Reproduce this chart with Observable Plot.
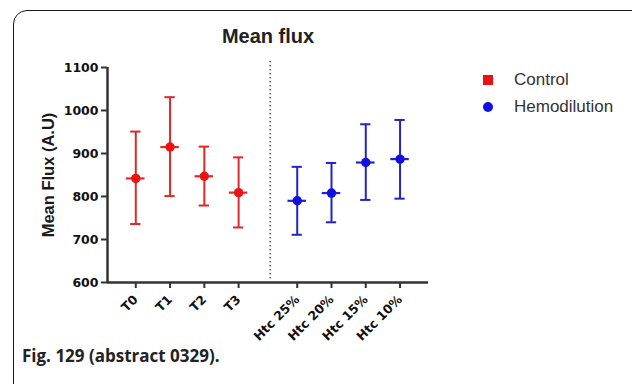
<!DOCTYPE html>
<html>
<head>
<meta charset="utf-8">
<script src="https://cdn.jsdelivr.net/npm/d3@7"></script>
<script src="https://cdn.jsdelivr.net/npm/@observablehq/plot@0.6"></script>
<style>
  body { margin:0; width:632px; height:384px; position:relative; overflow:hidden; background:#fff; font-family:"Liberation Sans", Arial, sans-serif; }
  #frame { position:absolute; left:13px; top:10px; width:640px; height:400px; border:1.5px solid #1a1a1a; border-radius:14px; }
  #chart { position:absolute; left:0; top:0; }
  #title { position:absolute; left:168px; width:200px; top:25px; text-align:center; font-weight:bold; font-size:20px; color:#222; }
  #ytitle { position:absolute; left:48px; top:175px; transform:translate(-50%,-50%) rotate(-90deg); white-space:nowrap; font-weight:bold; font-size:16.5px; color:#1a1a1a; }
  .leg { position:absolute; left:483px; font-size:17px; color:#333; display:flex; align-items:center; }
  .leg .sw { width:10px; height:10px; margin-right:21px; }
  #caption { position:absolute; left:22px; top:344px; font-family:"Open Sans", sans-serif; font-weight:700; font-size:17px; color:#222; }
  svg text { font-family:"DejaVu Sans", sans-serif; font-weight:bold; }
</style>
</head>
<body>
<div id="frame"></div>
<div id="chart"></div>
<div id="title">Mean flux</div>
<div id="ytitle">Mean Flux (A.U)</div>
<div class="leg" style="top:70px"><div class="sw" style="background:#ee1111"></div>Control</div>
<div class="leg" style="top:97px"><div class="sw" style="background:#1010e0;border-radius:50%"></div>Hemodilution</div>
<div id="caption">Fig. 129 (abstract 0329).</div>
<script>
const categories = ["T0", "T1", "T2", "T3", "Htc 25%", "Htc 20%", "Htc 15%", "Htc 10%"];
const groups = ["Control", "Control", "Control", "Control", "Hemodilution", "Hemodilution", "Hemodilution", "Hemodilution"];
const means = [842, 915, 847, 809, 790, 808, 879, 887];
const upper = [951, 1031, 916, 891, 869, 878, 968, 978];
const lower = [736, 801, 779, 728, 711, 740, 792, 795];
const yTicks = [600, 700, 800, 900, 1000, 1100];

const gap = 0.71; // extra spacing between the two groups
const data = categories.map((c, i) => ({
  cat: c, group: groups[i], mean: means[i], hi: upper[i], lo: lower[i],
  x: i + (groups[i] === "Hemodilution" ? gap : 0)
}));
const xPos = data.map(d => d.x);
const labelOf = new Map(data.map(d => [d.x, d.cat]));
const barColor = {Control: "#e02828", Hemodilution: "#2323c8"};
const dotColor = {Control: "#ee1111", Hemodilution: "#1010e0"};
const capW = 0.15, meanW = 0.27;
const xMin = -0.825, xMax = 8.54;

const plot = Plot.plot({
  width: 632,
  height: 384,
  marginLeft: 107,
  marginRight: 204,
  marginTop: 67,
  marginBottom: 102,
  style: {fontFamily: "'DejaVu Sans', sans-serif", color: "#111", background: "transparent", overflow: "visible"},
  x: {domain: [xMin, xMax]},
  y: {domain: [600, 1100]},
  marks: [
    Plot.ruleX([3.92], {y1: 608, y2: 1120, stroke: "#666", strokeWidth: 1.6, strokeDasharray: "1.5,2.5", clip: false}),
    Plot.ruleX(data, {x: "x", y1: "lo", y2: "hi", stroke: d => barColor[d.group], strokeWidth: 2}),
    Plot.ruleY(data, {y: "hi", x1: d => d.x - capW, x2: d => d.x + capW, stroke: d => barColor[d.group], strokeWidth: 2}),
    Plot.ruleY(data, {y: "lo", x1: d => d.x - capW, x2: d => d.x + capW, stroke: d => barColor[d.group], strokeWidth: 2}),
    Plot.ruleY(data, {y: "mean", x1: d => d.x - meanW, x2: d => d.x + meanW, stroke: d => barColor[d.group], strokeWidth: 2.2}),
    Plot.dot(data, {x: "x", y: "mean", fill: d => dotColor[d.group], r: 4.7}),
    Plot.ruleY([600], {stroke: "#333", strokeWidth: 2.5}),
    Plot.ruleX([xMin], {stroke: "#333", strokeWidth: 2.5}),
    Plot.axisY({ticks: yTicks, tickFormat: d3.format("d"), tickSize: 6, tickPadding: 3, strokeWidth: 2, stroke: "#333", fill: "#111", fontSize: 12.5, fontWeight: "bold", label: null}),
    Plot.axisX({ticks: xPos, tickFormat: d => labelOf.get(d), tickRotate: -45, tickSize: 6, tickPadding: 9, strokeWidth: 2, stroke: "#333", fill: "#111", fontSize: 12.5, fontWeight: "bold", label: null})
  ]
});
document.getElementById("chart").appendChild(plot);
</script>
</body>
</html>
